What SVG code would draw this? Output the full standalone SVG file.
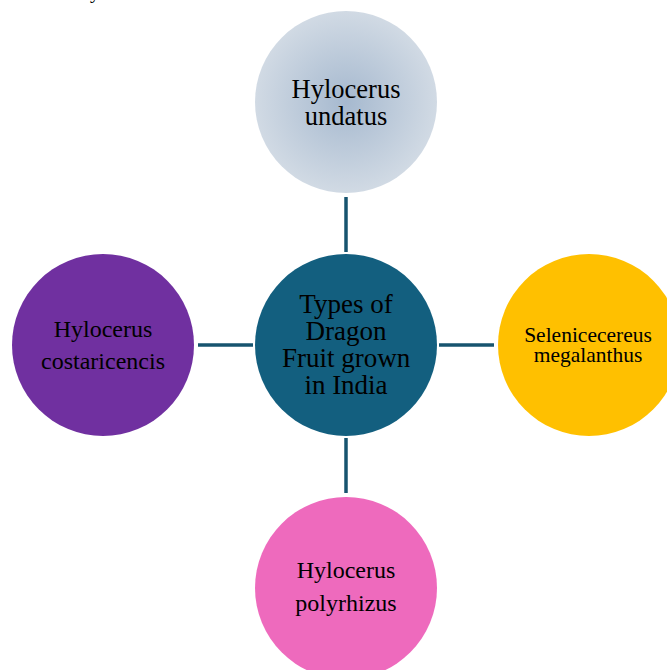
<svg xmlns="http://www.w3.org/2000/svg" width="667" height="670" viewBox="0 0 667 670">
<style>
  text { font-family: "Liberation Serif", "Times New Roman", serif; fill: #000; text-anchor: middle; }
  .conn line { stroke: #17546f; stroke-width: 3.5; }
</style>
<defs>
  <radialGradient id="gTop" cx="50%" cy="50%" r="50%">
    <stop offset="0" stop-color="#a6b9cf"/>
    <stop offset="1" stop-color="#d1dae4"/>
  </radialGradient>
</defs>
<rect width="667" height="670" fill="#ffffff"/>
<text x="95" y="-2" style="font-size:20px">y</text>
<g class="conn" id="connectors">
  <line x1="346" y1="197" x2="346" y2="252"/>
  <line x1="346" y1="438" x2="346" y2="493"/>
  <line x1="198" y1="345" x2="253" y2="345"/>
  <line x1="439" y1="345" x2="494" y2="345"/>
</g>
<g id="center">
  <circle cx="346" cy="345" r="91" fill="#135f7f"/>
  <text x="346" y="313" style="font-size:27px">Types of</text>
  <text x="346" y="340" style="font-size:27px">Dragon</text>
  <text x="346" y="367" style="font-size:27px">Fruit grown</text>
  <text x="346" y="394" style="font-size:27px">in India</text>
</g>
<g id="top">
  <circle cx="346" cy="102" r="91" fill="url(#gTop)"/>
  <text x="346" y="98" style="font-size:26.5px">Hylocerus</text>
  <text x="346" y="125" style="font-size:26.5px">undatus</text>
</g>
<g id="right">
  <circle cx="589" cy="345" r="91" fill="#ffc000"/>
  <text x="588" y="342" style="font-size:21.5px">Selenicecereus</text>
  <text x="588" y="362" style="font-size:21.5px">megalanthus</text>
</g>
<g id="left">
  <circle cx="103" cy="345" r="91" fill="#7030a0"/>
  <text x="103" y="337" style="font-size:24px">Hylocerus</text>
  <text x="103" y="369" style="font-size:24px">costaricencis</text>
</g>
<g id="bottom">
  <circle cx="346" cy="588" r="91" fill="#ee6abd"/>
  <text x="346" y="578" style="font-size:24px">Hylocerus</text>
  <text x="346" y="611" style="font-size:24px">polyrhizus</text>
</g>
</svg>
